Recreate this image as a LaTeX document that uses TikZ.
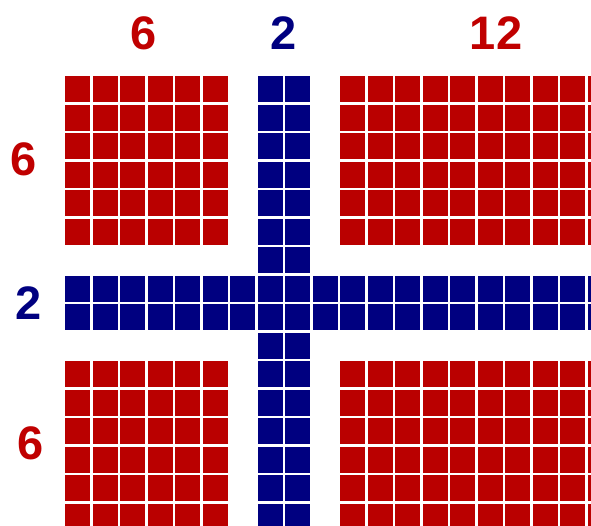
\documentclass[tikz,border=0pt]{standalone}
\usepackage{fontspec}
\setmainfont{Liberation Sans}
\definecolor{flagred}{HTML}{BA0000}
\definecolor{flagblue}{HTML}{000080}
\definecolor{txtred}{HTML}{C00000}
\definecolor{txtblue}{HTML}{000080}
\begin{document}
\begin{tikzpicture}[x=1pt,y=-1pt,
  lbl/.style={inner sep=0pt,font=\fontsize{47}{47}\selectfont\bfseries},
  redcell/.style={fill=flagred},
  bluecell/.style={fill=flagblue}]
\useasboundingbox (0,0) rectangle (591,525);
\fill[white] (0,0) rectangle (591,525);
\begin{scope}
\clip (0,0) rectangle (591,525);
\foreach \c in {0,...,19}{
  \foreach \r in {0,...,15}{
    \pgfmathtruncatemacro\isblue{or(or(\c==7,\c==8),or(\r==7,\r==8))}
    \pgfmathtruncatemacro\iswhite{or(or(\c==6,\c==9),or(\r==6,\r==9))}
    \ifnum\isblue=1
      \fill[bluecell] (65+\c*27.5,76+\r*28.5) rectangle ++(25,26);
    \else\ifnum\iswhite=0
      \fill[redcell] (65+\c*27.5,76+\r*28.5) rectangle ++(25,26);
    \fi\fi
  }
}
\end{scope}
\node[lbl,text=txtred]  (t6)  at (143.5,33) {6};
\node[lbl,text=txtblue] (t2)  at (283.5,33) {2};
\node[lbl,text=txtred]  (t12) at (496,33) {12};
\node[lbl,text=txtred]  (l6a) at (24,159) {6};
\node[lbl,text=txtblue] (l2)  at (28.7,303) {2};
\node[lbl,text=txtred]  (l6b) at (31,443) {6};
\end{tikzpicture}
\end{document}
